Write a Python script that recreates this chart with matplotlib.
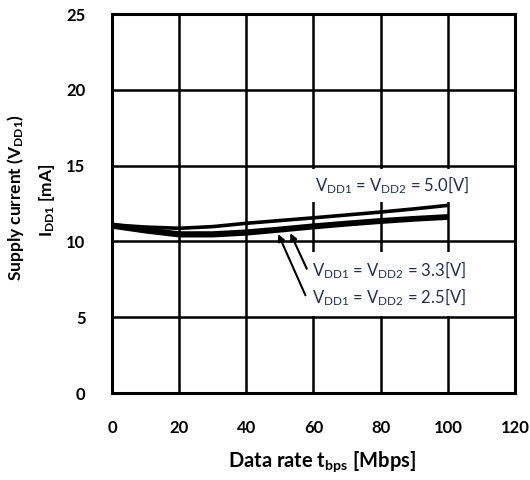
import matplotlib
matplotlib.use('Agg')
import matplotlib.pyplot as plt

plt.rcParams['font.family'] = ['Lato', 'DejaVu Sans']
plt.rcParams['mathtext.default'] = 'regular'

# data rate [Mbps]
rate = [0, 10, 20, 30, 40, 50, 60, 70, 80, 90, 100]
# supply current IDD1 [mA]
i_50 = [11.1, 10.95, 10.87, 10.98, 11.2, 11.38, 11.56, 11.75, 11.94, 12.15, 12.38]
i_33 = [11.1, 10.78, 10.52, 10.52, 10.64, 10.83, 11.04, 11.22, 11.39, 11.53, 11.65]
i_25 = [11.0, 10.68, 10.42, 10.42, 10.54, 10.74, 10.95, 11.14, 11.31, 11.46, 11.58]

xticks = [0, 20, 40, 60, 80, 100, 120]
yticks = [0, 5, 10, 15, 20, 25]

fig = plt.figure(figsize=(5.3, 4.8), dpi=100)
ax = fig.add_axes([0.2113, 0.181, 0.7604, 0.7898])

ax.plot(rate, i_50, color='black', lw=2.6, solid_capstyle='butt', zorder=3)
ax.plot(rate, i_33, color='black', lw=3.4, solid_capstyle='butt', zorder=3)
ax.plot(rate, i_25, color='black', lw=3.4, solid_capstyle='butt', zorder=3)

ax.set_xlim(0, 120)
ax.set_ylim(0, 25)
ax.set_xticks(xticks)
ax.set_yticks(yticks)
ax.grid(True, color='black', lw=1.8)
ax.tick_params(length=0, labelsize=12, pad=19)
for lab in ax.get_xticklabels() + ax.get_yticklabels():
    lab.set_fontweight('bold')
for s in ax.spines.values():
    s.set_linewidth(2.2)
    s.set_zorder(5)

navy = '#1f2f52'
ax.text(60.5, 13.7, r'V$_{DD1}$ = V$_{DD2}$ = 5.0[V]', fontsize=12, color=navy,
        va='center', bbox=dict(facecolor='white', edgecolor='none', pad=4), zorder=4)
box = dict(facecolor='white', edgecolor='none', pad=5.5)
ax.text(59.7, 8.1, r'V$_{DD1}$ = V$_{DD2}$ = 3.3[V]', fontsize=12, color=navy,
        va='center', bbox=box, zorder=4)
ax.text(59.7, 6.3, r'V$_{DD1}$ = V$_{DD2}$ = 2.5[V]', fontsize=12, color=navy,
        va='center', bbox=box, zorder=4)

arrow = dict(arrowstyle='-|>', color='black', lw=1.5, shrinkA=0, shrinkB=0,
             mutation_scale=10)
ax.annotate('', xy=(53.1, 10.55), xytext=(58.0, 8.2), arrowprops=arrow, zorder=6)
ax.annotate('', xy=(49.5, 10.49), xytext=(57.6, 6.45), arrowprops=arrow, zorder=6)

fig.text(16 / 530, 0.5875, r'Supply current (V$_{DD1}$)', rotation=90,
         ha='center', va='center', fontsize=12.5, fontweight='bold')
fig.text(47 / 530, 0.5833, r'I$_{DD1}$ [mA]', rotation=90,
         ha='center', va='center', fontsize=12.5, fontweight='bold')
fig.text(322 / 530, 1 - 462 / 480, r'Data rate t$_{bps}$ [Mbps]',
         ha='center', va='center', fontsize=14.5, fontweight='bold')

fig.savefig('out.png', dpi=100)
